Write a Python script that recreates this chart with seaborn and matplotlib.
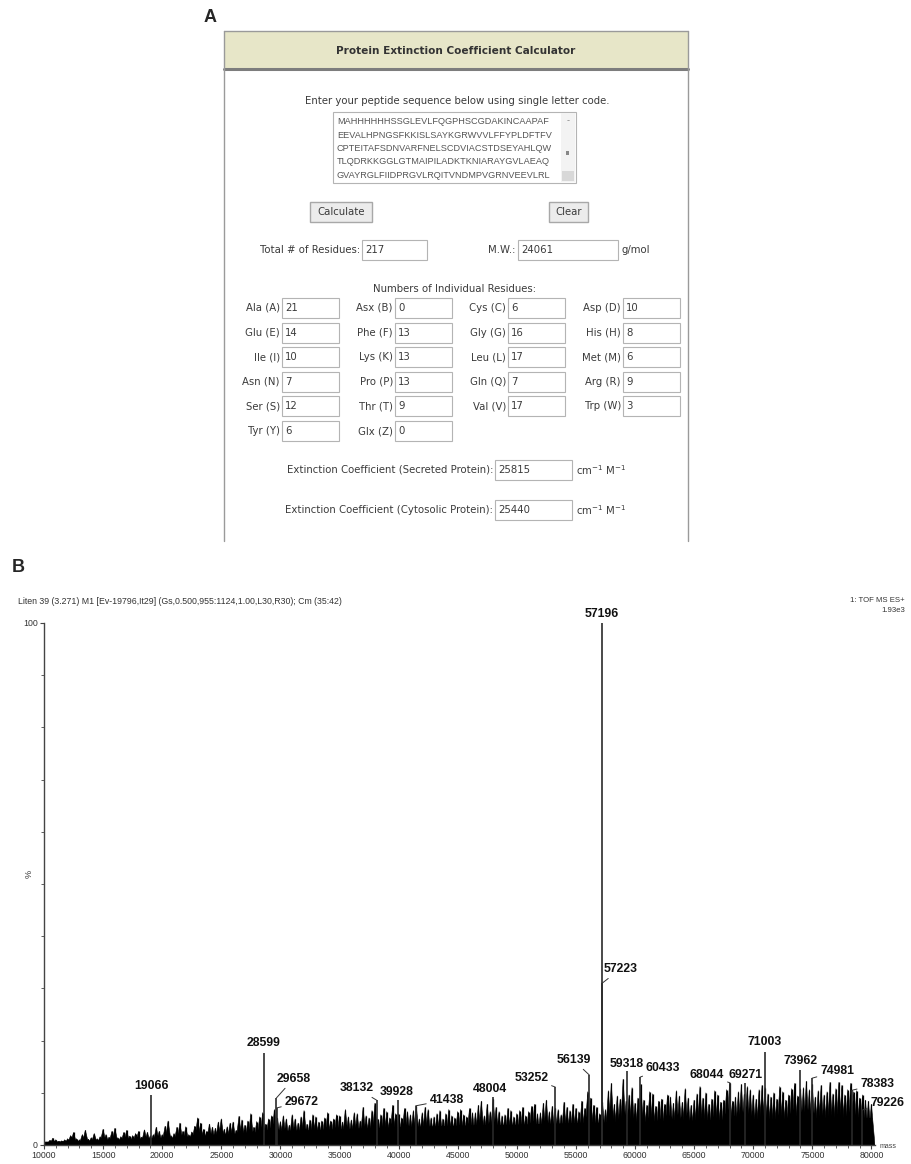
import numpy as np
import matplotlib
matplotlib.use('Agg')
import matplotlib.pyplot as plt
import seaborn as sns
from matplotlib.patches import Rectangle
from matplotlib.collections import PolyCollection
from matplotlib.ticker import MultipleLocator, FixedLocator

sns.set_style('ticks')
plt.rcParams['font.family'] = ['DejaVu Sans']

# ---- panel A: calculator form values ----
seq_lines = ['MAHHHHHHSSGLEVLFQGPHSCGDAKINCAAPAF',
             'EEVALHPNGSFKKISLSAYKGRWVVLFFYPLDFTFV',
             'CPTEITAFSDNVARFNELSCDVIACSTDSEYAHLQW',
             'TLQDRKKGGLGTMAIPILADKTKNIARAYGVLAEAQ',
             'GVAYRGLFIIDPRGVLRQITVNDMPVGRNVEEVLRL']
total_residues = 217
mol_weight = 24061
residue_names = ['Ala (A)', 'Asx (B)', 'Cys (C)', 'Asp (D)',
                 'Glu (E)', 'Phe (F)', 'Gly (G)', 'His (H)',
                 'Ile (I)', 'Lys (K)', 'Leu (L)', 'Met (M)',
                 'Asn (N)', 'Pro (P)', 'Gln (Q)', 'Arg (R)',
                 'Ser (S)', 'Thr (T)', 'Val (V)', 'Trp (W)',
                 'Tyr (Y)', 'Glx (Z)']
residue_counts = [21, 0, 6, 10, 14, 13, 16, 8, 10, 13, 17, 6,
                  7, 13, 7, 9, 12, 9, 17, 3, 6, 0]
ext_secreted = 25815
ext_cytosolic = 25440

# ---- panel B: deconvoluted mass spectrum ----
peak_mass = [19066, 28599, 29658, 29672, 38132, 39928, 41438, 48004, 53252, 56139, 57196,
             57223, 59318, 60433, 68044, 69271, 71003, 73962, 74981, 78383, 79226]
peak_int = [9.6, 17.6, 9.0, 7.1, 8.6, 8.6, 7.5, 9.2, 11.1, 13.4, 100,
            31.0, 14.2, 13.0, 11.9, 11.9, 17.8, 14.4, 12.8, 10.5, 6.7]

bg_mass = np.arange(10000, 80001, 500)
bg_int = [0.8, 0.9, 1.0, 0.8, 1.2, 2.4, 1.0, 2.8, 1.4, 1.2,
          3.0, 1.5, 3.2, 1.6, 2.8, 1.8, 2.6, 2.9, 1.8, 3.4,
          2.0, 4.6, 2.2, 4.2, 3.5, 2.5, 5.2, 3.0, 4.0, 3.2,
          5.0, 3.5, 4.4, 5.5, 3.8, 6.0, 4.5, 6.2, 5.0, 6.8,
          4.5, 5.0, 5.8, 4.2, 6.6, 4.8, 5.4, 4.6, 6.2, 5.0,
          5.6, 6.8, 4.8, 6.0, 7.2, 5.2, 8.0, 5.8, 6.4, 7.6,
          6.0, 7.0, 5.8, 7.5, 6.2, 6.8, 5.4, 6.6, 6.0, 5.6,
          6.4, 5.8, 7.0, 6.2, 8.4, 7.8, 8.8, 6.4, 5.8, 6.6,
          6.0, 7.2, 6.4, 7.8, 6.2, 8.6, 7.4, 6.8, 8.2, 6.6,
          7.0, 8.4, 10.2, 7.6, 6.0, 6.8, 11.8, 9.4, 12.6, 9.6,
          8.0, 11.6, 7.6, 9.8, 8.4, 7.8, 9.2, 10.4, 8.2, 9.0,
          8.6, 11.2, 10.0, 8.8, 9.6, 8.6, 11.8, 9.2, 11.6, 11.2,
          9.6, 10.6, 11.0, 9.2, 8.8, 10.2, 9.6, 11.8, 10.8, 12.2,
          11.6, 10.4, 9.6, 12.0, 10.8, 11.4, 10.6, 10.2, 9.0, 8.6,
          7.8]
bg2_mass = np.arange(10250, 80000, 500)
bg2_int = [0.6, 1.3, 0.7, 1.0, 1.8, 1.2, 2.0, 1.1, 2.2, 1.6,
           2.0, 2.6, 1.4, 2.4, 1.7, 2.2, 1.5, 2.4, 2.0, 2.6,
           3.6, 1.8, 3.4, 2.6, 2.0, 3.6, 4.2, 2.6, 3.4, 4.4,
           3.0, 4.2, 2.8, 4.8, 4.6, 3.4, 5.4, 4.0, 5.6, 5.2,
           5.6, 3.8, 5.0, 5.4, 4.0, 5.8, 4.4, 5.2, 4.6, 5.8,
           4.4, 5.4, 6.2, 4.6, 5.6, 6.6, 5.0, 7.0, 5.2, 6.0,
           5.2, 6.4, 6.6, 5.0, 7.2, 5.2, 6.0, 5.0, 6.8, 5.2,
           6.8, 5.4, 6.2, 7.6, 5.6, 6.4, 7.2, 5.6, 7.0, 5.4,
           6.6, 5.6, 7.4, 6.0, 8.0, 6.4, 7.0, 5.8, 7.2, 7.8,
           6.4, 7.0, 9.0, 7.2, 8.2, 10.4, 7.8, 8.8, 8.4, 11.0,
           9.0, 8.6, 10.2, 7.4, 8.8, 9.6, 8.0, 9.4, 10.8, 7.6,
           9.8, 9.0, 7.8, 10.4, 8.2, 10.6, 8.4, 10.2, 9.8, 10.6,
           8.8, 11.4, 9.8, 10.0, 11.2, 8.6, 10.8, 9.4, 11.0, 10.6,
           9.2, 11.4, 10.2, 9.8, 12.0, 9.6, 11.8, 10.4, 9.6, 8.4]
base_mass = [10000, 15000, 20000, 25000, 30000, 35000, 40000, 45000,
             50000, 55000, 60000, 65000, 70000, 75000, 80000]
base_int = [0.4, 0.7, 1.1, 1.8, 2.5, 2.8, 3.2, 3.5, 3.7, 4.0, 4.2, 4.5, 4.7, 4.9, 5.0]

# label offsets (pixels from peak top to label centre) and leader flags
label_dx = [0, 0, 17, 25, -20, -1, 31, -3, -24, -16, 0, 18, 0, 23, -23, 1, 0, 1, 25, 25, 25]
label_dy = [9, 10, 19, 6, 12, 8, 6, 8, 9, 15, 9, 14, 7, 9, 8, 8, 10, 9, 7, 6, 7]
leader = [0, 0, 1, 1, 1, 0, 1, 0, 1, 1, 0, 1, 0, 1, 1, 0, 0, 0, 1, 1, 1]

W, H = 912, 1164
fig = plt.figure(figsize=(W / 100, H / 100), dpi=100)

# ---------------- panel A (drawn in pixel coords) ----------------
axA = fig.add_axes([0, 0, 1, 1])
axA.set_xlim(0, W)
axA.set_ylim(H, 0)
axA.axis('off')
tc = '#3a3a3a'
fs = 7.3

def box(x0, y0, x1, y1, fc='white', ec='#b4b4b4', lw=0.8):
    axA.add_patch(Rectangle((x0, y0), x1 - x0, y1 - y0, facecolor=fc, edgecolor=ec, lw=lw))

axA.text(210, 18, 'A', fontsize=13, fontweight='bold', ha='center', va='center', family='Liberation Sans')

# outer frame (no bottom border) + header band
axA.add_patch(Rectangle((224, 31), 464, 38, facecolor='#e7e6c8', edgecolor='none'))
axA.plot([224, 688], [31, 31], color='#9a9a9a', lw=1)
axA.plot([224, 688], [69, 69], color='#7d7d7d', lw=2.2)
axA.plot([224, 224], [31, 541], color='#9a9a9a', lw=1)
axA.plot([688, 688], [31, 541], color='#9a9a9a', lw=1)
axA.text(456, 51, 'Protein Extinction Coefficient Calculator', fontsize=7.6, fontweight='bold',
         ha='center', va='center', color='#333333')

axA.text(457, 101, 'Enter your peptide sequence below using single letter code.', fontsize=fs,
         ha='center', va='center', color=tc)
box(333, 112, 576, 183)
axA.add_patch(Rectangle((561, 113), 14, 69, facecolor='#f3f3f3', edgecolor='none'))
axA.text(568, 121, '-', fontsize=6, ha='center', va='center', color='#888')
axA.add_patch(Rectangle((566, 151), 3.5, 3.5, facecolor='#888', edgecolor='none'))
axA.add_patch(Rectangle((562, 171), 12, 10, facecolor='#d8d8d8', edgecolor='none'))
for i, line in enumerate(seq_lines):
    axA.text(337, 122 + i * 13.3, line, fontsize=6.6, ha='left', va='center', color='#555',
             family='Liberation Sans')

# buttons
for (x0, x1, lab) in [(310, 372, 'Calculate'), (549, 588, 'Clear')]:
    box(x0, 202, x1, 222, fc='#ececec', ec='#a8a8a8', lw=1)
    axA.text((x0 + x1) / 2, 212, lab, fontsize=fs, ha='center', va='center', color=tc)

# totals
axA.text(360, 250, 'Total # of Residues:', fontsize=fs, ha='right', va='center', color=tc)
box(362, 240, 427, 260)
axA.text(365, 250, str(total_residues), fontsize=fs, ha='left', va='center', color=tc)
axA.text(515, 250, 'M.W.:', fontsize=fs, ha='right', va='center', color=tc)
box(518, 240, 618, 260)
axA.text(521, 250, str(mol_weight), fontsize=fs, ha='left', va='center', color=tc)
axA.text(622, 250, 'g/mol', fontsize=fs, ha='left', va='center', color=tc)

axA.text(455, 289, 'Numbers of Individual Residues:', fontsize=fs, ha='center', va='center', color=tc)
col_x = [282, 395, 508, 623]
for i, (name, cnt) in enumerate(zip(residue_names, residue_counts)):
    r, c = divmod(i, 4)
    yc = 308 + r * 24.6
    x0 = col_x[c]
    box(x0, yc - 10, x0 + 57, yc + 10)
    axA.text(x0 - 2, yc, name, fontsize=fs, ha='right', va='center', color=tc)
    axA.text(x0 + 3, yc, str(cnt), fontsize=fs, ha='left', va='center', color=tc)

for yc, lab, val in [(470, 'Extinction Coefficient (Secreted Protein):', ext_secreted),
                     (510, 'Extinction Coefficient (Cytosolic Protein):', ext_cytosolic)]:
    axA.text(493, yc, lab, fontsize=fs, ha='right', va='center', color=tc)
    box(495, yc - 10, 572, yc + 10)
    axA.text(498, yc, str(val), fontsize=fs, ha='left', va='center', color=tc)
    axA.text(576, yc, 'cm$^{-1}$ M$^{-1}$', fontsize=fs, ha='left', va='center', color=tc)

# ---------------- panel B ----------------
axA.text(18, 567, 'B', fontsize=13, fontweight='bold', ha='center', va='center', family='Liberation Sans')
axA.text(18, 602, 'Liten 39 (3.271) M1 [Ev-19796,It29] (Gs,0.500,955:1124,1.00,L30,R30); Cm (35:42)',
         fontsize=6.3, ha='left', va='center', color='#333', family='Liberation Sans')
axA.text(905, 601, '1: TOF MS ES+', fontsize=5.6, ha='right', va='center', color='#333', family='Liberation Sans')
axA.text(905, 611, '1.93e3', fontsize=5.6, ha='right', va='center', color='#333', family='Liberation Sans')

x0px, x1px = 44, 44 + 70300 * 0.01182
y0px, y1px = 623, 1145
axB = fig.add_axes([x0px / W, 1 - y1px / H, (x1px - x0px) / W, (y1px - y0px) / H])
axB.patch.set_alpha(0)
axB.set_xlim(10000, 80300)
axB.set_ylim(0, 100)

# dense background: baseline band + overlapping triangular spikes
axB.fill_between(base_mass, 0, base_int, color='black', lw=0)
sns.lineplot(x=base_mass, y=base_int, ax=axB, color='black', lw=1.5)
all_mass = list(bg_mass) + list(bg2_mass)
all_int = bg_int + bg2_int
tris = [[(m - 300, 0), (m, h), (m + 300, 0)] for m, h in zip(all_mass, all_int)]
axB.add_collection(PolyCollection(tris, facecolors='black', edgecolors='black', linewidths=0.4))
axB.vlines(all_mass, 0, all_int, color='black', lw=0.9)
axB.vlines(peak_mass, 0, peak_int, color='#2a2a2a', lw=1.2, clip_on=False)

for m, h, dx, dy, ld in zip(peak_mass, peak_int, label_dx, label_dy, leader):
    axB.annotate(str(m), xy=(m, h), xytext=(dx, dy), textcoords='offset pixels',
                 ha='center', va='center', fontsize=8.8, fontweight='bold',
                 family='Liberation Sans', color='#111', annotation_clip=False,
                 arrowprops=dict(arrowstyle='-', lw=0.7, color='#333', shrinkA=0, shrinkB=0) if ld else None)

sns.despine(ax=axB)
for s in ['left', 'bottom']:
    axB.spines[s].set_color('#444')
    axB.spines[s].set_linewidth(1)
axB.set_xticks(np.arange(10000, 80001, 5000))
axB.set_xticklabels([str(v) for v in range(10000, 80001, 5000)])
axB.xaxis.set_minor_locator(MultipleLocator(1000))
axB.yaxis.set_major_locator(FixedLocator([0, 100]))
axB.yaxis.set_minor_locator(MultipleLocator(10))
axB.tick_params(axis='both', which='major', labelsize=6.3, length=3, width=0.8, color='#444',
                labelcolor='#333', pad=1.5)
axB.tick_params(axis='both', which='minor', length=2, width=0.6, color='#444')
for t in axB.get_xticklabels() + axB.get_yticklabels():
    t.set_family('Liberation Sans')
axB.set_ylabel('%', fontsize=6.5, color='#333', family='Liberation Sans')
axB.yaxis.set_label_coords(-0.013, 0.52)
axB.set_xlabel('')
axA.text(888, 1146, 'mass', fontsize=5, ha='center', va='center', color='#444', family='Liberation Sans')

fig.savefig('out.png', dpi=100)
